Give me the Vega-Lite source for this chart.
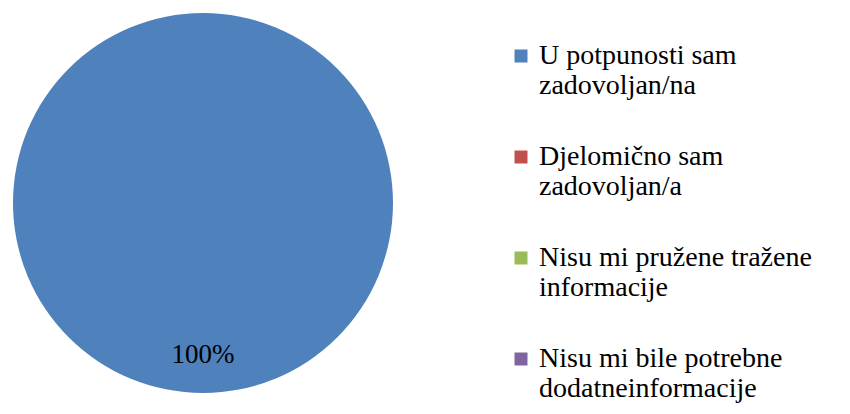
{
  "$schema": "https://vega.github.io/schema/vega-lite/v6.json",
  "width": 406,
  "height": 406,
  "autosize": "none",
  "padding": {"left": 0, "top": 0, "right": 444, "bottom": 8},
  "background": "white",
  "config": {"view": {"stroke": null}, "font": "Liberation Serif"},
  "data": {
    "values": [
      {"odgovor": "U potpunosti sam|zadovoljan/na", "udio": 1.0, "red": 1},
      {"odgovor": "Djelomično sam|zadovoljan/a", "udio": 0, "red": 2},
      {"odgovor": "Nisu mi pružene tražene|informacije", "udio": 0, "red": 3},
      {"odgovor": "Nisu mi bile potrebne|dodatneinformacije", "udio": 0, "red": 4}
    ]
  },
  "encoding": {
    "theta": {"field": "udio", "type": "quantitative", "stack": true},
    "order": {"field": "red", "type": "quantitative"}
  },
  "layer": [
    {
      "mark": {"type": "arc", "radius": 190},
      "encoding": {
        "color": {
          "field": "odgovor",
          "type": "nominal",
          "scale": {
            "domain": ["U potpunosti sam|zadovoljan/na", "Djelomično sam|zadovoljan/a", "Nisu mi pružene tražene|informacije", "Nisu mi bile potrebne|dodatneinformacije"],
            "range": ["#4F81BD", "#C0504D", "#9BBB59", "#8064A2"]
          },
          "legend": {
            "title": null,
            "orient": "none",
            "legendX": 507,
            "legendY": 42,
            "labelExpr": "split(datum.label, '|')",
            "labelFont": "Liberation Serif",
            "labelFontSize": 28,
            "labelColor": "black",
            "labelLimit": 500,
            "labelLineHeight": 35,
            "labelOffset": 4,
            "symbolType": "square",
            "symbolSize": 169,
            "symbolStrokeWidth": 0,
            "rowPadding": 43
          }
        }
      }
    },
    {
      "transform": [{"filter": "datum.udio > 0"}],
      "mark": {"type": "text", "radius": 152, "font": "Liberation Serif", "fontSize": 27, "color": "black"},
      "encoding": {
        "text": {"field": "udio", "type": "quantitative", "format": ".0%"}
      }
    }
  ]
}
